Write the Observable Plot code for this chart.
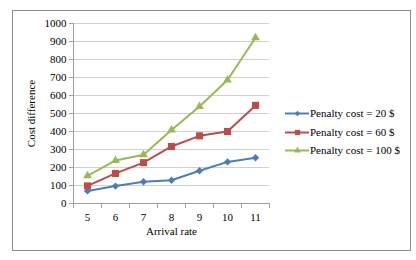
<!DOCTYPE html>
<html><head><meta charset="utf-8">
<script src="https://cdn.jsdelivr.net/npm/d3@7"></script>
<script src="https://cdn.jsdelivr.net/npm/@observablehq/plot@0.6"></script>
<style>
html,body{margin:0;padding:0;background:#fff;}
#wrap{position:relative;width:416px;height:260px;}
#box{position:absolute;left:12px;top:10px;width:399px;height:241px;border:1px solid #8c8c8c;box-sizing:border-box;}
#legend{position:absolute;left:285px;top:104px;font-family:"Liberation Serif",serif;font-size:11px;color:#000;}
.row{display:flex;align-items:center;height:18.5px;}
</style></head>
<body><div id="wrap"><div id="box"></div><div id="chart"></div><div id="legend"></div></div>
<script>
const arrivalRates = [5, 6, 7, 8, 9, 10, 11];
const seriesNames = ["Penalty cost = 20 $", "Penalty cost = 60 $", "Penalty cost = 100 $"];
const cost20 = [70, 97, 121, 129, 182, 231, 254];
const cost60 = [98, 167, 227, 317, 376, 400, 545];
const cost100 = [154, 239, 271, 408, 539, 686, 921];
const yTicks = [0, 100, 200, 300, 400, 500, 600, 700, 800, 900, 1000];

const colors = ["#4a7ebb", "#be4b48", "#98b954"];
const symbols = ["diamond2", "square2", "triangle2"];
const radii = [3.3, 4.5, 4.2];
const allSeries = [cost20, cost60, cost100];
const data = [];
allSeries.forEach((vals, s) => vals.forEach((v, i) => data.push({rate: arrivalRates[i], value: v, series: seriesNames[s]})));
const boundaries = [...arrivalRates.map(r => r - 0.5), arrivalRates[arrivalRates.length - 1] + 0.5];

const marks = [
  Plot.gridY(yTicks, {stroke: "#d0d0d0", strokeOpacity: 1, x1: 4.5, x2: 11.5}),
  Plot.axisY(yTicks, {tickSize: 4, stroke: "#a0a0a0", tickPadding: 3, fontSize: 11, tickFormat: d => String(d), label: "Cost difference", labelAnchor: "center", labelOffset: 46, labelArrow: "none"}),
  Plot.ruleX([4.5], {stroke: "#a0a0a0"}),
  Plot.ruleY([0], {stroke: "#a0a0a0"}),
  Plot.axisX(boundaries, {tickSize: 5, stroke: "#a0a0a0", tickFormat: () => "", label: null}),
  Plot.axisX(arrivalRates, {tickSize: 0, tickPadding: 10, fontSize: 11, label: "Arrival rate", labelAnchor: "center", labelOffset: 31, labelArrow: "none"})
];
seriesNames.forEach((name, s) => {
  const d = data.filter(e => e.series === name);
  marks.push(Plot.line(d, {x: "rate", y: "value", stroke: colors[s], strokeWidth: 2}));
  marks.push(Plot.dot(d, {x: "rate", y: "value", symbol: () => symbols[s], fill: colors[s], r: radii[s], stroke: "none"}));
});

const chart = Plot.plot({
  width: 416, height: 260,
  marginLeft: 73, marginRight: 147, marginTop: 23, marginBottom: 57,
  style: {fontFamily: "'Liberation Serif', serif", fontSize: "11px", color: "#000", background: "transparent"},
  x: {type: "linear", domain: [4.5, 11.5]},
  y: {domain: [0, 1000]},
  symbol: {type: "identity"},
  marks
});
chart.style.position = "absolute";
chart.style.left = "0"; chart.style.top = "0";
document.getElementById("chart").appendChild(chart);

const legend = document.getElementById("legend");
seriesNames.forEach((name, s) => {
  const row = document.createElement("div");
  row.className = "row";
  const sw = Plot.plot({
    width: 24, height: 12, margin: 0, axis: null,
    x: {domain: [0, 1]}, y: {domain: [0, 1]},
    symbol: {type: "identity"},
    style: {background: "transparent"},
    marks: [
      Plot.ruleY([0.5], {x1: 0, x2: 1, stroke: colors[s], strokeWidth: 2}),
      Plot.dot([0.5], {x: d => d, y: 0.5, symbol: () => symbols[s], fill: colors[s], r: radii[s] * 0.75})
    ]
  });
  sw.style.display = "block";
  const t = document.createElement("span");
  t.textContent = name;
  t.style.marginLeft = "1px";
  row.appendChild(sw); row.appendChild(t);
  legend.appendChild(row);
});
</script></body></html>
